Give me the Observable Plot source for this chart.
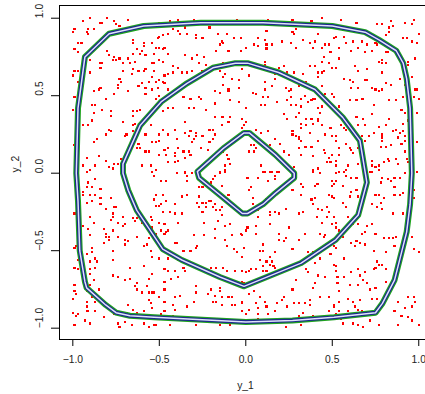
<!DOCTYPE html>
<html><head><meta charset="utf-8">
<script src="https://cdn.jsdelivr.net/npm/d3@7"></script>
<script src="https://cdn.jsdelivr.net/npm/@observablehq/plot@0.6"></script>
<style>html,body{margin:0;padding:0;background:#fff}</style>
</head><body><div id="chart"></div>
<script>
const xTicks = [-1, -0.5, 0, 0.5, 1];
const yTicks = [-1, -0.5, 0, 0.5, 1];
const xTitle = "y_1";
const yTitle = "y_2";

const samplePoints = [
[-0.90,1.00],[-0.94,0.98],[-0.99,0.93],[-1.00,0.91],[-0.91,0.93],[-0.92,0.91],[-0.88,0.93],[-0.91,0.90],[-0.84,0.97],[-0.83,0.97],[-0.80,1.00],[-0.76,0.98],[-0.75,0.96],[-0.73,0.95],[-0.68,0.99],[-0.97,0.84],[-0.95,0.84],[-0.99,0.80],[-0.97,0.78],[-0.99,0.66],[-0.97,0.66],[-1.00,0.63],[-0.97,0.59],[-0.90,0.65],[-0.90,0.73],[-0.84,0.71],[-0.83,0.71],[-0.84,0.68],[-0.80,0.79],[-0.79,0.76],[-0.77,0.73],[-0.75,0.73],[-0.76,0.75],[-0.73,0.74],[-0.71,0.71],[-0.68,0.74],[-0.67,0.71],[-0.64,0.72],[-0.65,0.77],[-0.61,0.77],[-0.65,0.86],[-0.65,0.84],[-0.59,0.84],[-0.59,0.82],[-0.54,0.84],[-0.60,0.79],[-0.63,0.80],[-0.58,0.76],[-0.54,0.71],[-0.65,0.67],[-0.62,0.66],[-0.59,0.66],[-0.58,0.67],[-0.66,0.64],[-0.71,0.66],[-0.73,0.61],[-0.72,0.59],[-0.74,0.57],[-0.60,0.58],[-0.56,0.59],[-0.54,0.62],[-0.58,0.55],[-0.58,0.51],[-0.62,0.56],[-0.68,0.53],[-0.74,0.55],[-0.76,0.51],[-0.81,0.48],[-0.84,0.55],[-0.85,0.54],[-0.88,0.53],[-0.99,0.49],[-0.97,0.49],[-1.00,0.41],[-0.89,0.44],[-0.87,0.44],[-0.88,0.39],[-0.78,0.37],[-0.78,0.40],[-0.83,0.41],[-0.71,0.33],[-0.65,0.40],[-0.63,0.40],[-0.61,0.41],[-0.65,0.37],[-0.64,0.32],[-0.65,0.31],[-0.59,0.35],[-0.55,0.31],[-0.58,0.25],[-0.91,0.31],[-0.94,0.31],[-0.89,0.34],[-0.79,0.28],[-0.78,0.27],[-0.81,0.25],[-0.69,0.25],[-0.70,0.24],[-0.65,0.27],[-0.63,0.24],[-0.62,0.19],[-0.63,0.16],[-0.61,0.16],[-0.58,0.14],[-0.56,0.14],[-0.54,0.20],[-0.86,0.22],[-0.88,0.20],[-0.99,0.18],[-0.92,0.10],[-0.85,0.11],[-0.81,0.08],[-0.76,0.06],[-0.74,0.06],[-0.79,0.04],[-0.77,0.03],[-0.87,0.05],[-0.90,0.02],[-0.94,0.05],[-0.60,0.05],[-0.55,0.05],[-0.54,0.01],[-0.72,0.09],
[-0.50,0.97],[-0.44,0.98],[-0.39,0.99],[-0.30,0.99],[-0.05,0.99],[-0.42,0.93],[-0.39,0.92],[-0.35,0.94],[-0.34,0.90],[-0.38,0.90],[-0.50,0.88],[-0.51,0.87],[-0.48,0.89],[-0.45,0.90],[-0.29,0.89],[-0.29,0.87],[-0.25,0.87],[-0.21,0.94],[-0.16,0.90],[-0.11,0.90],[-0.14,0.85],[-0.13,0.84],[-0.15,0.83],[-0.07,0.87],[-0.03,0.87],[-0.52,0.81],[-0.50,0.81],[-0.48,0.80],[-0.47,0.81],[-0.53,0.77],[-0.45,0.77],[-0.17,0.79],[-0.10,0.79],[-0.03,0.79],[-0.35,0.76],[-0.31,0.74],[-0.28,0.76],[-0.24,0.75],[-0.27,0.71],[-0.23,0.70],[-0.53,0.71],[-0.50,0.73],[-0.48,0.72],[-0.42,0.69],[-0.39,0.68],[-0.42,0.65],[-0.37,0.65],[-0.34,0.65],[-0.31,0.66],[-0.27,0.64],[-0.25,0.66],[-0.20,0.66],[-0.16,0.69],[-0.15,0.66],[-0.13,0.71],[-0.08,0.72],[-0.06,0.72],[-0.12,0.64],[-0.13,0.62],[-0.08,0.61],[-0.04,0.60],[-0.04,0.55],[-0.53,0.66],[-0.47,0.63],[-0.45,0.64],[-0.50,0.60],[-0.52,0.59],[-0.48,0.59],[-0.47,0.58],[-0.54,0.54],[-0.51,0.55],[-0.45,0.54],[-0.13,0.57],[-0.10,0.54],[-0.10,0.53],[-0.18,0.53],[-0.15,0.52],[-0.36,0.49],[-0.32,0.48],[-0.27,0.49],[-0.26,0.48],[-0.33,0.42],[-0.30,0.42],[-0.23,0.41],[-0.18,0.45],[-0.09,0.47],[-0.04,0.46],[-0.50,0.50],[-0.52,0.48],[-0.45,0.42],[-0.42,0.42],[-0.48,0.40],[-0.18,0.36],[-0.14,0.36],[-0.13,0.36],[-0.09,0.36],[-0.10,0.33],[-0.14,0.31],[-0.02,0.35],[-0.01,0.31],[-0.02,0.29],[-0.35,0.33],[-0.48,0.28],[-0.45,0.25],[-0.50,0.25],[-0.41,0.28],[-0.40,0.22],[-0.35,0.26],[-0.32,0.27],[-0.33,0.24],[-0.29,0.24],[-0.25,0.24],[-0.31,0.20],[-0.30,0.22],[-0.29,0.26],[-0.21,0.28],[-0.19,0.28],[-0.18,0.25],[-0.19,0.22],[-0.21,0.20],[-0.26,0.16],[-0.22,0.15],[-0.52,0.20],[-0.50,0.21],[-0.47,0.15],[-0.45,0.16],[-0.50,0.12],[-0.46,0.12],[-0.41,0.13],[-0.41,0.11],[-0.39,0.16],[-0.36,0.14],[-0.33,0.14],[-0.32,0.12],[-0.35,0.10],[-0.45,0.07],[-0.41,0.07],[-0.39,0.08],[-0.52,0.02],[-0.35,0.01],[-0.29,0.01],[-0.15,0.01],[-0.12,0.02],[-0.10,0.09],[-0.11,0.12],[-0.09,0.06],[-0.12,0.05],[-0.13,0.14],
[0.13,0.99],[0.27,0.99],[0.34,0.97],[0.38,0.98],[0.44,1.00],[0.12,0.92],[0.29,0.93],[0.27,0.91],[0.28,0.90],[0.42,0.90],[0.51,0.87],[0.07,0.87],[0.11,0.86],[0.05,0.83],[0.07,0.82],[0.12,0.83],[0.12,0.81],[0.12,0.80],[0.15,0.83],[0.21,0.85],[0.26,0.84],[0.29,0.81],[0.33,0.86],[0.37,0.84],[0.40,0.85],[0.39,0.81],[0.44,0.81],[0.46,0.83],[0.48,0.83],[0.49,0.78],[0.45,0.75],[0.44,0.72],[0.48,0.71],[0.50,0.68],[0.00,0.81],[0.11,0.72],[0.11,0.70],[0.22,0.69],[0.19,0.68],[0.17,0.61],[0.17,0.64],[0.24,0.65],[0.28,0.65],[0.33,0.64],[0.37,0.69],[0.40,0.69],[0.42,0.65],[0.42,0.62],[0.44,0.65],[0.45,0.66],[0.35,0.59],[0.31,0.56],[0.44,0.56],[0.46,0.51],[0.50,0.51],[0.51,0.49],[0.02,0.63],[-0.02,0.67],[0.11,0.59],[0.11,0.54],[0.15,0.56],[0.04,0.52],[0.06,0.51],[0.10,0.49],[0.13,0.49],[0.23,0.55],[0.25,0.53],[0.26,0.54],[0.26,0.49],[0.18,0.46],[0.24,0.47],[0.29,0.44],[0.26,0.44],[0.32,0.48],[0.36,0.46],[0.38,0.47],[0.39,0.48],[0.40,0.48],[0.34,0.50],[0.32,0.43],[0.09,0.44],[0.11,0.44],[0.00,0.42],[0.42,0.42],[0.44,0.43],[0.43,0.39],[0.22,0.38],[0.24,0.35],[0.29,0.36],[0.31,0.39],[0.35,0.35],[0.32,0.32],[0.32,0.29],[0.35,0.31],[0.38,0.35],[0.39,0.32],[0.42,0.35],[0.42,0.34],[0.37,0.26],[0.44,0.31],[0.49,0.29],[-0.02,0.35],[0.00,0.33],[0.09,0.26],[0.13,0.27],[0.06,0.28],[0.07,0.20],[0.17,0.22],[0.20,0.19],[0.22,0.14],[0.25,0.12],[0.27,0.27],[0.27,0.25],[0.29,0.24],[0.31,0.23],[0.31,0.22],[0.32,0.21],[0.31,0.16],[0.32,0.12],[0.34,0.17],[0.35,0.17],[0.38,0.17],[0.39,0.11],[0.42,0.21],[0.46,0.25],[0.50,0.24],[0.45,0.15],[0.46,0.13],[0.48,0.10],[0.49,0.07],[0.47,0.07],[0.50,0.12],[0.03,0.18],[0.05,0.18],[0.02,0.14],[0.05,0.14],[0.06,0.16],[0.14,0.18],[0.09,0.05],[0.10,0.01],[0.15,0.01],[0.18,0.01],[0.28,0.04],[0.39,0.02],[0.42,0.03],
[0.55,0.99],[0.64,0.97],[0.76,0.96],[0.79,0.96],[0.84,0.98],[0.83,0.94],[0.85,0.95],[0.92,0.97],[0.96,0.96],[0.97,0.99],[1.00,0.90],[0.83,0.91],[0.81,0.89],[0.91,0.87],[0.93,0.87],[0.96,0.85],[0.99,0.84],[0.52,0.88],[0.57,0.88],[0.58,0.84],[0.62,0.85],[0.67,0.85],[0.70,0.83],[0.75,0.84],[0.76,0.83],[0.54,0.81],[0.61,0.79],[0.65,0.81],[0.69,0.78],[0.73,0.79],[0.81,0.78],[0.82,0.78],[0.54,0.74],[0.77,0.72],[0.79,0.73],[0.79,0.71],[0.81,0.71],[0.94,0.72],[0.94,0.70],[0.98,0.74],[0.52,0.68],[0.63,0.69],[0.65,0.66],[0.70,0.67],[0.79,0.65],[0.57,0.61],[0.60,0.60],[0.62,0.59],[0.69,0.60],[0.70,0.60],[0.89,0.61],[0.92,0.57],[0.96,0.62],[0.98,0.54],[0.99,0.54],[1.00,0.48],[0.97,0.49],[0.61,0.55],[0.65,0.55],[0.73,0.55],[0.75,0.54],[0.77,0.53],[0.79,0.54],[0.81,0.58],[0.84,0.57],[0.91,0.49],[0.54,0.43],[0.60,0.47],[0.64,0.47],[0.67,0.48],[0.68,0.48],[0.74,0.44],[0.83,0.47],[0.87,0.47],[0.90,0.41],[0.92,0.39],[0.99,0.39],[0.64,0.36],[0.68,0.35],[0.73,0.38],[0.83,0.35],[0.94,0.34],[0.55,0.31],[0.57,0.29],[0.58,0.28],[0.65,0.31],[0.69,0.31],[0.77,0.30],[0.81,0.31],[0.85,0.27],[0.87,0.28],[0.89,0.26],[0.91,0.27],[0.91,0.32],[0.79,0.25],[0.79,0.23],[0.74,0.26],[0.88,0.23],[0.92,0.24],[0.90,0.19],[0.92,0.21],[0.99,0.20],[0.52,0.24],[0.52,0.21],[0.58,0.19],[0.60,0.16],[0.61,0.15],[0.62,0.13],[0.65,0.16],[0.67,0.24],[0.69,0.21],[0.71,0.24],[0.78,0.17],[0.81,0.17],[0.84,0.18],[0.79,0.21],[0.54,0.16],[0.54,0.12],[0.52,0.08],[0.52,0.05],[0.59,0.05],[0.65,0.06],[0.73,0.08],[0.73,0.05],[0.73,0.01],[0.75,0.04],[0.77,0.05],[0.80,0.07],[0.82,0.09],[0.83,0.08],[0.87,0.09],[0.88,0.06],[0.92,0.14],[0.93,0.09],[0.94,0.07],[0.54,0.01],[0.58,0.02],[0.77,0.02],
[-0.92,0.01],[-0.91,-0.06],[-0.87,-0.04],[-0.92,-0.09],[-0.89,-0.09],[-0.84,-0.10],[-0.94,-0.12],[-0.94,-0.14],[-0.90,-0.14],[-0.87,-0.14],[-0.84,-0.16],[-0.89,-0.18],[-0.92,-0.19],[-0.84,-0.20],[-0.81,-0.23],[-0.99,-0.26],[-0.94,-0.34],[-0.90,-0.28],[-0.88,-0.32],[-0.78,-0.16],[-0.76,-0.22],[-0.75,-0.22],[-0.77,-0.26],[-0.77,-0.28],[-0.78,-0.30],[-0.71,-0.28],[-0.74,-0.32],[-0.71,-0.34],[-0.70,-0.33],[-0.65,-0.29],[-0.63,-0.29],[-0.64,-0.31],[-0.60,-0.32],[-0.55,-0.28],[-0.54,-0.35],[-0.56,-0.42],[-0.57,-0.46],[-0.55,-0.50],[-0.91,-0.36],[-0.90,-0.40],[-0.82,-0.36],[-0.81,-0.39],[-0.81,-0.41],[-0.82,-0.45],[-0.79,-0.41],[-0.79,-0.43],[-0.77,-0.37],[-0.74,-0.41],[-0.70,-0.43],[-0.68,-0.44],[-0.70,-0.46],[-0.63,-0.41],[-0.59,-0.47],[-0.98,-0.47],[-0.99,-0.48],[-0.89,-0.48],[-0.89,-0.51],[-0.92,-0.52],[-0.97,-0.56],[-0.87,-0.55],[-0.86,-0.57],[-0.90,-0.57],[-0.77,-0.50],[-0.77,-0.56],[-0.99,-0.61],[-0.97,-0.62],[-0.87,-0.61],[-0.90,-0.62],[-0.90,-0.65],[-0.88,-0.69],[-0.67,-0.61],[-0.59,-0.60],[-0.54,-0.54],[-0.54,-0.65],[-0.56,-0.68],[-0.77,-0.66],[-0.74,-0.67],[-0.70,-0.69],[-0.67,-0.68],[-0.63,-0.71],[-0.64,-0.73],[-0.63,-0.75],[-0.57,-0.73],[-0.60,-0.77],[-0.56,-0.77],[-0.53,-0.77],[-0.99,-0.72],[-0.99,-0.76],[-1.00,-0.81],[-0.98,-0.78],[-0.92,-0.76],[-0.90,-0.72],[-0.85,-0.75],[-0.89,-0.80],[-0.92,-0.83],[-0.92,-0.86],[-0.92,-0.89],[-0.87,-0.83],[-0.68,-0.85],[-0.56,-0.82],[-0.55,-0.84],[-0.59,-0.89],[-0.54,-0.87],[-1.00,-0.90],[-0.98,-0.92],[-0.97,-0.91],[-0.91,-0.89],[-0.87,-0.89],[-0.82,-0.93],[-0.76,-0.91],[-0.69,-0.90],[-0.65,-0.88],[-0.63,-0.90],[-0.60,-0.93],[-0.93,-0.95],[-0.90,-0.97],[-0.99,-0.98],[-0.74,-0.97],[-0.70,-0.96],[-0.73,-0.99],[-0.66,-0.98],[-0.59,-0.97],[-0.56,-0.99],[-0.53,-0.98],
[-0.53,-0.02],[-0.49,-0.05],[-0.46,-0.05],[-0.40,0.00],[-0.35,0.00],[-0.34,-0.02],[-0.34,-0.05],[-0.31,0.00],[-0.19,-0.04],[-0.18,-0.02],[-0.15,0.00],[-0.12,0.01],[-0.20,-0.06],[-0.14,-0.08],[-0.27,-0.09],[-0.25,-0.09],[-0.18,-0.10],[-0.52,-0.14],[-0.48,-0.14],[-0.53,-0.17],[-0.46,-0.18],[-0.37,-0.15],[-0.34,-0.14],[-0.27,-0.15],[-0.52,-0.21],[-0.50,-0.21],[-0.49,-0.20],[-0.41,-0.20],[-0.28,-0.19],[-0.25,-0.19],[-0.23,-0.19],[-0.23,-0.22],[-0.21,-0.18],[-0.20,-0.18],[-0.18,-0.20],[-0.19,-0.22],[-0.14,-0.22],[-0.10,-0.14],[-0.48,-0.25],[-0.44,-0.25],[-0.41,-0.26],[-0.37,-0.26],[-0.27,-0.22],[-0.25,-0.25],[-0.17,-0.24],[-0.15,-0.24],[-0.14,-0.27],[-0.16,-0.31],[-0.09,-0.33],[-0.24,-0.32],[-0.12,-0.34],[-0.18,-0.36],[-0.54,-0.30],[-0.50,-0.32],[-0.47,-0.33],[-0.39,-0.32],[-0.49,-0.37],[-0.46,-0.38],[-0.47,-0.39],[-0.45,-0.37],[-0.52,-0.39],[-0.30,-0.40],[-0.24,-0.40],[-0.18,-0.42],[-0.12,-0.43],[-0.08,-0.40],[-0.03,-0.39],[-0.02,-0.40],[-0.11,-0.47],[-0.29,-0.48],[-0.28,-0.47],[-0.32,-0.50],[-0.36,-0.50],[-0.41,-0.45],[-0.40,-0.45],[-0.07,-0.49],[-0.05,-0.51],[-0.02,-0.54],[-0.50,-0.55],[-0.45,-0.55],[-0.39,-0.56],[-0.36,-0.61],[-0.35,-0.63],[-0.41,-0.63],[-0.47,-0.62],[-0.45,-0.63],[-0.43,-0.68],[-0.47,-0.70],[-0.39,-0.67],[-0.20,-0.61],[-0.17,-0.61],[-0.13,-0.61],[-0.11,-0.63],[-0.06,-0.63],[-0.02,-0.63],[-0.02,-0.70],[-0.29,-0.73],[-0.54,-0.77],[-0.50,-0.80],[-0.47,-0.75],[-0.47,-0.83],[-0.41,-0.80],[-0.38,-0.79],[-0.29,-0.77],[-0.30,-0.83],[-0.42,-0.85],[-0.41,-0.88],[-0.34,-0.86],[-0.22,-0.78],[-0.20,-0.75],[-0.18,-0.79],[-0.15,-0.74],[-0.15,-0.76],[-0.14,-0.80],[-0.10,-0.80],[-0.08,-0.80],[-0.08,-0.85],[-0.06,-0.85],[-0.02,-0.84],[-0.02,-0.89],[-0.14,-0.85],[-0.19,-0.83],[-0.17,-0.83],[-0.54,-0.87],[-0.47,-0.89],[-0.49,-0.91],[-0.52,-0.92],[-0.42,-0.92],[-0.52,-0.98],[-0.44,-0.98],[-0.29,-0.98],[-0.15,-0.98],[-0.09,-0.98],
[0.01,-0.03],[0.07,-0.03],[0.11,0.01],[0.14,0.01],[0.17,-0.02],[0.17,-0.04],[0.13,-0.05],[0.19,0.01],[0.39,0.01],[0.43,0.00],[0.03,-0.09],[0.02,-0.11],[0.32,-0.07],[0.33,-0.09],[0.40,-0.08],[0.41,-0.07],[0.42,-0.07],[0.50,-0.05],[0.50,-0.08],[0.04,-0.16],[0.04,-0.20],[0.12,-0.17],[0.09,-0.22],[0.07,-0.24],[0.02,-0.26],[0.07,-0.28],[0.14,-0.25],[0.17,-0.25],[0.19,-0.26],[0.14,-0.27],[0.23,-0.23],[0.27,-0.11],[0.32,-0.14],[0.38,-0.17],[0.39,-0.20],[0.40,-0.16],[0.48,-0.14],[0.50,-0.15],[0.47,-0.22],[0.42,-0.23],[0.48,-0.25],[0.44,-0.24],[0.31,-0.26],[0.33,-0.25],[0.41,-0.28],[0.44,-0.32],[0.47,-0.28],[0.50,-0.33],[0.14,-0.33],[0.01,-0.35],[0.00,-0.37],[0.06,-0.34],[0.06,-0.39],[0.19,-0.39],[0.19,-0.43],[0.22,-0.44],[0.23,-0.42],[0.25,-0.35],[0.31,-0.43],[0.34,-0.39],[0.27,-0.49],[0.36,-0.51],[0.39,-0.51],[0.43,-0.39],[0.45,-0.41],[0.46,-0.40],[0.46,-0.48],[0.49,-0.52],[0.51,-0.47],[-0.01,-0.48],[0.10,-0.46],[0.08,-0.50],[0.10,-0.50],[0.17,-0.51],[0.15,-0.57],[0.14,-0.54],[0.14,-0.59],[0.16,-0.60],[0.17,-0.61],[0.12,-0.57],[0.08,-0.56],[0.10,-0.60],[0.03,-0.62],[0.06,-0.62],[0.10,-0.63],[0.12,-0.63],[0.02,-0.63],[0.00,-0.64],[0.35,-0.62],[0.36,-0.55],[0.40,-0.58],[0.40,-0.53],[0.43,-0.55],[0.51,-0.59],[0.36,-0.64],[0.42,-0.66],[0.46,-0.67],[0.29,-0.69],[0.27,-0.75],[0.39,-0.74],[0.40,-0.71],[-0.01,-0.71],[0.05,-0.76],[0.02,-0.78],[0.08,-0.80],[0.22,-0.80],[0.21,-0.82],[0.24,-0.86],[0.28,-0.84],[0.31,-0.84],[0.34,-0.84],[0.37,-0.85],[0.37,-0.82],[0.43,-0.80],[0.48,-0.80],[0.51,-0.86],[-0.02,-0.83],[0.02,-0.88],[0.06,-0.84],[0.07,-0.87],[0.11,-0.83],[0.12,-0.86],[0.18,-0.84],[0.17,-0.89],[0.00,-0.91],[0.07,-0.91],[0.13,-0.91],[0.31,-0.92],[0.33,-0.90],[0.39,-0.92],[0.48,-0.89],[0.50,-0.93],[0.07,-0.94],[0.23,-0.99],[0.32,-0.98],
[0.52,0.00],[0.57,0.01],[0.58,-0.02],[0.61,-0.03],[0.52,-0.05],[0.51,-0.07],[0.56,-0.08],[0.64,-0.03],[0.72,0.01],[0.79,-0.03],[0.82,-0.04],[0.84,-0.05],[0.86,-0.03],[0.89,-0.03],[0.92,0.00],[0.96,0.01],[0.99,0.01],[0.78,-0.06],[0.86,-0.09],[0.64,-0.11],[0.61,-0.12],[0.60,-0.15],[0.65,-0.15],[0.75,-0.14],[0.77,-0.14],[0.86,-0.14],[0.89,-0.14],[0.91,-0.13],[0.97,-0.11],[0.97,-0.16],[0.51,-0.16],[0.56,-0.19],[0.58,-0.22],[0.73,-0.20],[0.78,-0.19],[0.80,-0.16],[0.76,-0.22],[0.79,-0.23],[0.85,-0.26],[0.91,-0.26],[0.51,-0.28],[0.59,-0.28],[0.52,-0.32],[0.52,-0.35],[0.54,-0.37],[0.62,-0.33],[0.65,-0.33],[0.70,-0.34],[0.73,-0.33],[0.67,-0.39],[0.69,-0.38],[0.56,-0.41],[0.75,-0.39],[0.80,-0.42],[0.83,-0.42],[0.85,-0.42],[0.87,-0.41],[0.96,-0.41],[1.00,-0.51],[0.97,-0.49],[0.61,-0.45],[0.64,-0.44],[0.63,-0.47],[0.66,-0.45],[0.69,-0.46],[0.74,-0.50],[0.81,-0.51],[0.86,-0.47],[0.52,-0.48],[0.57,-0.55],[0.65,-0.62],[0.76,-0.57],[0.75,-0.61],[0.77,-0.59],[0.79,-0.59],[0.81,-0.62],[0.69,-0.64],[0.74,-0.62],[0.52,-0.60],[0.52,-0.63],[0.53,-0.67],[0.57,-0.67],[0.61,-0.64],[0.66,-0.66],[0.68,-0.69],[0.70,-0.71],[0.65,-0.72],[0.72,-0.75],[0.75,-0.74],[0.81,-0.70],[0.53,-0.71],[0.60,-0.72],[0.54,-0.76],[0.59,-0.81],[0.54,-0.83],[0.51,-0.85],[0.62,-0.83],[0.66,-0.82],[0.73,-0.81],[0.76,-0.81],[0.88,-0.83],[0.92,-0.87],[0.94,-0.80],[0.97,-0.80],[0.96,-0.86],[0.98,-0.83],[0.86,-0.89],[0.90,-0.92],[0.94,-0.93],[0.96,-0.95],[1.00,-0.98],[0.88,-0.98],[0.54,-0.89],[0.52,-0.91],[0.59,-0.89],[0.60,-0.91],[0.63,-0.86],[0.65,-0.88],[0.67,-0.89],[0.73,-0.91],[0.56,-0.97],[0.62,-0.97],[0.65,-0.98],[0.68,-0.99],[0.72,-0.95],[0.77,-0.98],[0.55,-0.94]
];

const contourOuter = [[-0.98,0.00],[-0.97,-0.18],[-0.96,-0.50],[-0.93,-0.70],[-0.92,-0.74],[-0.87,-0.79],[-0.81,-0.85],[-0.75,-0.90],[-0.67,-0.92],[-0.53,-0.93],[0.00,-0.96],[0.27,-0.95],[0.51,-0.93],[0.75,-0.90],[0.79,-0.84],[0.86,-0.69],[0.93,-0.38],[0.95,-0.20],[0.96,0.00],[0.95,0.42],[0.93,0.61],[0.91,0.71],[0.87,0.79],[0.77,0.86],[0.69,0.91],[0.50,0.95],[0.10,0.97],[-0.26,0.97],[-0.59,0.95],[-0.79,0.90],[-0.93,0.75],[-0.97,0.42]];
const contourMiddle = [[-0.71,0.06],[-0.61,0.31],[-0.49,0.46],[-0.34,0.58],[-0.19,0.68],[-0.06,0.71],[0.01,0.71],[0.19,0.65],[0.40,0.54],[0.56,0.36],[0.66,0.21],[0.70,-0.06],[0.65,-0.27],[0.52,-0.43],[0.32,-0.58],[-0.01,-0.73],[-0.15,-0.67],[-0.37,-0.56],[-0.48,-0.49],[-0.63,-0.24],[-0.68,-0.11],[-0.71,0.00]];
const contourInner = [[-0.28,0.01],[-0.27,-0.03],[-0.15,-0.14],[-0.02,-0.26],[0.01,-0.26],[0.10,-0.20],[0.17,-0.13],[0.28,-0.03],[0.28,0.00],[0.17,0.12],[0.02,0.26],[-0.01,0.26],[-0.13,0.16]];

const xDomain = [-1.077, 1.039];
const yDomain = [-1.073, 1.082];
const fmt = d3.format(".1f");
const contours = [contourOuter, contourMiddle, contourInner];
const lineLayers = [
  {stroke: "#1fa31f", width: 6},
  {stroke: "#1d2b8c", width: 3.8},
  {stroke: "#dfe3fb", width: 1.5}
];

const chart = Plot.plot({
  width: 425, height: 394,
  marginLeft: 59, marginRight: 0, marginTop: 5, marginBottom: 55,
  x: {domain: xDomain},
  y: {domain: yDomain},
  style: {fontFamily: "'Liberation Sans', Arial, sans-serif", fontSize: "10.3px", color: "#222", background: "#fff"},
  marks: [
    Plot.dot(samplePoints, {x: d => d[0], y: d => d[1], symbol: "square", r: 1.2, fill: "#ff0000", stroke: "none", shapeRendering: "crispEdges"}),
    ...lineLayers.flatMap(L => contours.map(c => Plot.line(c, {x: d => d[0], y: d => d[1], curve: "linear-closed", stroke: L.stroke, strokeWidth: L.width, strokeLinejoin: "round"}))),
    Plot.ruleX([xDomain[0]], {stroke: "#000"}),
    Plot.ruleY([yDomain[0], yDomain[1]], {stroke: "#000"}),
    Plot.axisX({ticks: xTicks, tickSize: 7, tickPadding: 9.4, tickFormat: fmt, label: null, stroke: "#000"}),
    Plot.axisY({ticks: yTicks, tickSize: 8, tickFormat: () => "", label: null, stroke: "#000"}),
    Plot.text(yTicks, {y: d => d, text: d => fmt(d), frameAnchor: "left", rotate: -90, dx: -19.4, fill: "#222"}),
    Plot.text([xTitle], {frameAnchor: "bottom", lineAnchor: "bottom", dy: 49.5, dx: 3, fill: "#222"}),
    Plot.text([yTitle], {frameAnchor: "left", rotate: -90, dx: -44, fill: "#222"})
  ]
});
document.getElementById("chart").appendChild(chart);
</script>
</body></html>
